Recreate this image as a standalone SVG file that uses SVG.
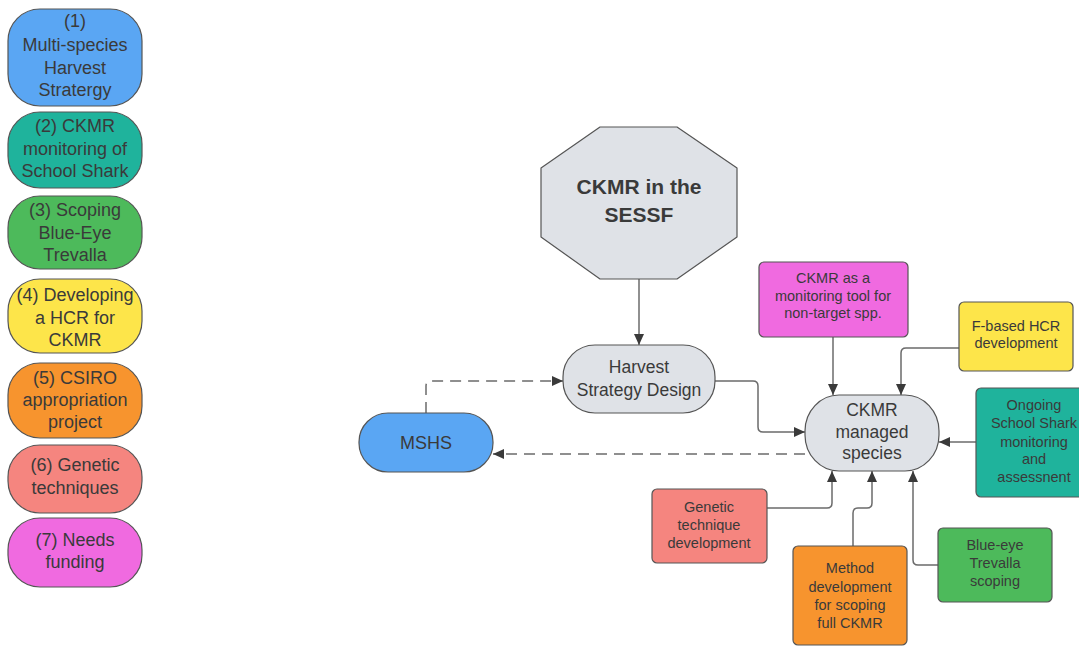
<svg xmlns="http://www.w3.org/2000/svg" width="1079" height="646" viewBox="0 0 1079 646">
<defs>
<marker id="ah" markerUnits="userSpaceOnUse" markerWidth="12" markerHeight="10" refX="11" refY="5" orient="auto">
<path d="M0,0 L11,5 L0,10 z" fill="#3a3a3a"/>
</marker>
<style>
.t{font-family:"Liberation Sans",Arial,sans-serif;fill:#3a3a3a;text-anchor:middle}
.lg{font-size:18px}
.md{font-size:17.5px}
.sm{font-size:14.5px}
.nd{stroke:#555;stroke-width:1.2}
.c{fill:none;stroke:#6b6b6b;stroke-width:1.5;marker-end:url(#ah)}
.d{stroke-dasharray:11 7}
.grey{fill:#dfe2e7}
.blue{fill:#5aa6f3}
.teal{fill:#1fb39c}
.green{fill:#4dba5b}
.yellow{fill:#fde54a}
.orange{fill:#f7942e}
.salmon{fill:#f5857f}
.pink{fill:#f06ae0}
</style>
</defs>
<rect width="1079" height="646" fill="#ffffff"/>

<g id="legend1"><rect class="nd blue" x="8" y="9" width="134" height="97" rx="32" ry="32"/>
<text class="t lg" x="75" y="27">(1)</text><text class="t lg" x="75" y="51">Multi-species</text><text class="t lg" x="75" y="74">Harvest</text><text class="t lg" x="75" y="96">Stratergy</text></g>
<g id="legend2"><rect class="nd teal" x="8" y="112" width="134" height="76" rx="32" ry="32"/>
<text class="t lg" x="75" y="132">(2) CKMR</text><text class="t lg" x="75" y="155">monitoring of</text><text class="t lg" x="75" y="177">School Shark</text></g>
<g id="legend3"><rect class="nd green" x="8" y="196" width="134" height="73" rx="32" ry="32"/>
<text class="t lg" x="75" y="216">(3) Scoping</text><text class="t lg" x="75" y="239">Blue-Eye</text><text class="t lg" x="75" y="261">Trevalla</text></g>
<g id="legend4"><rect class="nd yellow" x="8" y="279" width="134" height="74" rx="32" ry="32"/>
<text class="t lg" x="75" y="301">(4) Developing</text><text class="t lg" x="75" y="324">a HCR for</text><text class="t lg" x="75" y="346">CKMR</text></g>
<g id="legend5"><rect class="nd orange" x="8" y="363" width="134" height="75" rx="32" ry="32"/>
<text class="t lg" x="75" y="384">(5) CSIRO</text><text class="t lg" x="75" y="406">appropriation</text><text class="t lg" x="75" y="428">project</text></g>
<g id="legend6"><rect class="nd salmon" x="8" y="445" width="134" height="68" rx="32" ry="32"/>
<text class="t lg" x="75" y="471">(6) Genetic</text><text class="t lg" x="75" y="494">techniques</text></g>
<g id="legend7"><rect class="nd pink" x="8" y="518" width="134" height="69" rx="32" ry="32"/>
<text class="t lg" x="75" y="546">(7) Needs</text><text class="t lg" x="75" y="568">funding</text></g>

<g id="connectors">
<path class="c" d="M639 279 V345"/>
<path class="c" d="M715 381 H753 Q758 381 758 386 V427 Q758 432 763 432 H805"/>
<path class="c d" d="M426 413 V386 Q426 381 431 381 H563"/>
<path class="c d" d="M805 454 H493"/>
<path class="c" d="M833 337 V395"/>
<path class="c" d="M959 348 H906 Q901 348 901 353 V395"/>
<path class="c" d="M976 442 H939"/>
<path class="c" d="M767 508 H827 Q832 508 832 503 V471"/>
<path class="c" d="M853 546 V513 Q853 508 858 508 H867 Q872 508 872 503 V471"/>
<path class="c" d="M938 565 H918 Q913 565 913 560 V471"/>
</g>

<g id="ckmr-sessf"><polygon class="nd grey" points="600,127 677,127 737,168 737,237 677,279 600,279 541,237 541,168" stroke-linejoin="round"/>
<text class="t" x="639" y="194" font-size="21" font-weight="bold">CKMR in the</text><text class="t" x="639" y="222" font-size="21" font-weight="bold">SESSF</text></g>

<g id="harvest"><rect class="nd grey" x="563" y="345" width="152" height="68" rx="32" ry="32"/>
<text class="t md" x="639" y="373">Harvest</text><text class="t md" x="639" y="396">Strategy Design</text></g>

<g id="mshs"><rect class="nd blue" x="359" y="413" width="134" height="59" rx="29" ry="29"/>
<text class="t lg" x="426" y="449">MSHS</text></g>

<g id="managed"><rect class="nd grey" x="805" y="395" width="134" height="76" rx="34" ry="36"/>
<text class="t md" x="872" y="416">CKMR</text><text class="t md" x="872" y="438">managed</text><text class="t md" x="872" y="459">species</text></g>

<g id="nontarget"><rect class="nd pink" x="759" y="262" width="149" height="75" rx="5"/>
<text class="t sm" x="833" y="283">CKMR as a</text><text class="t sm" x="833" y="301">monitoring tool for</text><text class="t sm" x="833" y="318">non-target spp.</text></g>

<g id="fbased"><rect class="nd yellow" x="959" y="302" width="114" height="69" rx="5"/>
<text class="t sm" x="1016" y="331">F-based HCR</text><text class="t sm" x="1016" y="348">development</text></g>

<g id="schoolshark"><rect class="nd teal" x="976" y="388" width="112" height="109" rx="5"/>
<text class="t sm" x="1034" y="410">Ongoing</text><text class="t sm" x="1034" y="428">School Shark</text><text class="t sm" x="1034" y="447">monitoring</text><text class="t sm" x="1034" y="464">and</text><text class="t sm" x="1034" y="482">assessnent</text></g>

<g id="genetic"><rect class="nd salmon" x="652" y="489" width="115" height="74" rx="5"/>
<text class="t sm" x="709" y="512">Genetic</text><text class="t sm" x="709" y="530">technique</text><text class="t sm" x="709" y="548">development</text></g>

<g id="method"><rect class="nd orange" x="793" y="546" width="114" height="99" rx="5"/>
<text class="t sm" x="850" y="573">Method</text><text class="t sm" x="850" y="592">development</text><text class="t sm" x="850" y="610">for scoping</text><text class="t sm" x="850" y="628">full CKMR</text></g>

<g id="blueeye"><rect class="nd green" x="938" y="528" width="114" height="74" rx="5"/>
<text class="t sm" x="995" y="550">Blue-eye</text><text class="t sm" x="995" y="568">Trevalla</text><text class="t sm" x="995" y="586">scoping</text></g>
</svg>
